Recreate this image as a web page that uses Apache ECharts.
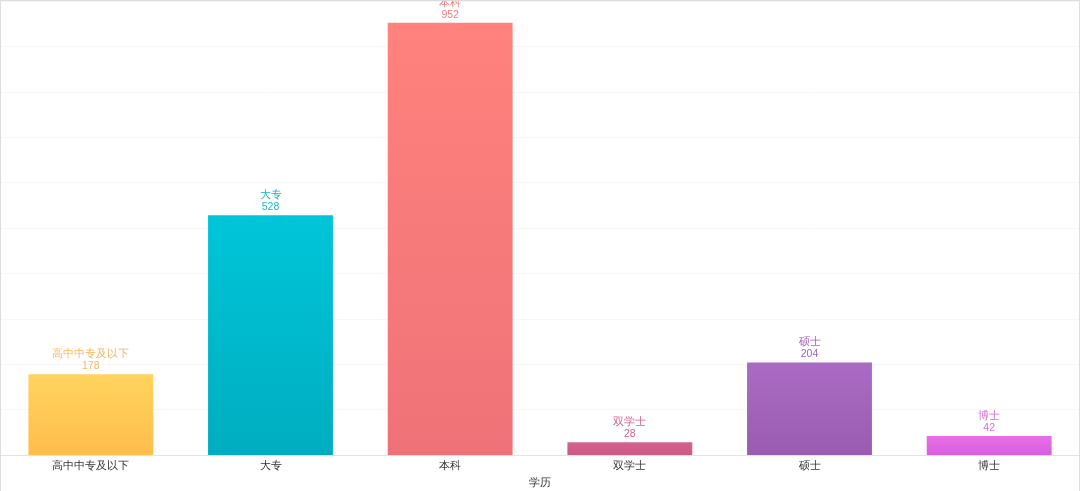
<!DOCTYPE html>
<html><head><meta charset="utf-8">
<script src="https://cdn.jsdelivr.net/npm/echarts@6/dist/echarts.min.js"></script>
<style>html,body{margin:0;padding:0;background:#fff}#c{width:1080px;height:491px;box-sizing:border-box;border:1px solid #dcdcdc;border-bottom:none}</style>
</head><body><div id="c"></div>
<script>
const categories = ['高中中专及以下','大专','本科','双学士','硕士','博士'];
const values = [178, 528, 952, 28, 204, 42];
const topColors = ['#ffd45e','#00c5d9','#ff827d','#d4628f','#aa6bc4','#e76fea'];
const bottomColors = ['#ffbd4b','#00adc0','#ef7278','#cc5a86','#9a5cb1','#d75fdf'];
const labelColors = ['#f5b760','#1ab5c9','#f07f80','#cf6192','#a363bd','#d86ad9'];
const xAxisName = '学历';

const chart = echarts.init(document.getElementById('c'));
chart.setOption({
  animation:false,
  grid:{left:0,right:0,top:0,bottom:36,containLabel:false,outerBoundsMode:'none'},
  xAxis:{type:'category',data:categories,name:xAxisName,nameLocation:'middle',nameGap:22,
    nameTextStyle:{color:'#333',fontSize:11},
    axisLine:{lineStyle:{color:'#e3e3e6'}},axisTick:{show:false},
    axisLabel:{color:'#333',fontSize:11,margin:5}},
  yAxis:{type:'value',min:0,max:1000,interval:100,axisLabel:{show:false},axisLine:{show:false},axisTick:{show:false},
    splitLine:{lineStyle:{color:'#f7f7f9'}}},
  series:[{type:'bar',barWidth:'69.5%',
    data:values.map((v,i)=>({value:v,
      itemStyle:{color:new echarts.graphic.LinearGradient(0,0,0,1,[{offset:0,color:topColors[i]},{offset:1,color:bottomColors[i]}])},
      label:{color:labelColors[i]}})),
    label:{show:true,position:'top',fontSize:10.5,lineHeight:12,distance:2,
      formatter:p=>categories[p.dataIndex]+'\n'+p.value}}]
});
</script></body></html>
